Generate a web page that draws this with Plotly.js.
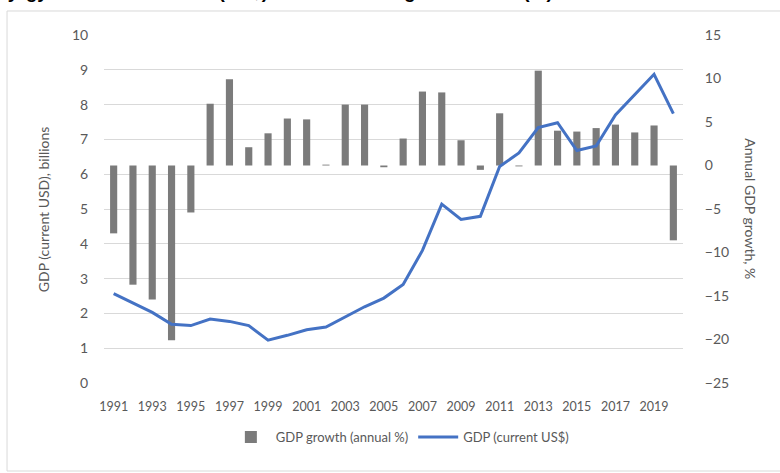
<!DOCTYPE html>
<html>
<head>
<meta charset="utf-8">
<script src="https://cdn.plot.ly/plotly-3.0.1.min.js"></script>
<style>
  html, body { margin: 0; padding: 0; background: #ffffff; }
  #chart { width: 780px; height: 473px; }
</style>
</head>
<body>
<div id="chart"></div>
<script>
// ---- Data ----
var years = ["1991","1992","1993","1994","1995","1996","1997","1998","1999","2000",
             "2001","2002","2003","2004","2005","2006","2007","2008","2009","2010",
             "2011","2012","2013","2014","2015","2016","2017","2018","2019","2020"];

// Annual GDP growth, % (right axis)
var gdpGrowth = [-7.8, -13.7, -15.4, -20.1, -5.4, 7.1, 9.9, 2.1, 3.7, 5.4,
                 5.3, 0.1, 7.0, 7.0, -0.2, 3.1, 8.5, 8.4, 2.9, -0.5,
                 6.0, -0.1, 10.9, 4.0, 3.9, 4.3, 4.7, 3.8, 4.6, -8.6];

// GDP (current USD), billions (left axis)
var gdpBillions = [2.57, 2.29, 2.03, 1.69, 1.65, 1.84, 1.77, 1.65, 1.23, 1.37,
                   1.53, 1.61, 1.91, 2.19, 2.44, 2.83, 3.81, 5.14, 4.70, 4.79,
                   6.22, 6.61, 7.34, 7.48, 6.68, 6.81, 7.70, 8.28, 8.87, 7.74];

var xTickLabels = ["1991","1993","1995","1997","1999","2001","2003","2005",
                   "2007","2009","2011","2013","2015","2017","2019"];

var leftTicks = [0,1,2,3,4,5,6,7,8,9,10];
var rightTicks = [-25,-20,-15,-10,-5,0,5,10,15];

var chartTitle = "Kyrgyzstan GDP current (US$) and total GDP growth rates (%)";
var leftTitle = "GDP (current USD), billions";
var rightTitle = "Annual GDP growth, %";
var barName = "GDP growth (annual %)";
var lineName = "GDP (current US$)";

// ---- Styles ----
var txtColor = "#595959";
var fontFam = "Lato, 'Open Sans', 'Liberation Sans', sans-serif";
var clear = "rgba(0,0,0,0)";

var traces = [
  {
    type: "bar",
    name: barName,
    x: years,
    y: gdpGrowth,
    yaxis: "y",
    width: 0.37,
    marker: { color: "#7b7b7b" },
    hoverinfo: "x+y"
  },
  {
    type: "scatter",
    mode: "lines",
    name: lineName,
    x: years,
    y: gdpBillions,
    yaxis: "y2",
    line: { color: "#4472c4", width: 3 },
    hoverinfo: "x+y"
  }
];

var layout = {
  width: 780,
  height: 473,
  margin: { l: 104, r: 97, t: 35, b: 90, pad: 0 },
  paper_bgcolor: "#ffffff",
  plot_bgcolor: "#ffffff",
  font: { family: fontFam, color: txtColor, size: 13 },
  showlegend: true,
  xaxis: {
    type: "category",
    tickmode: "array",
    tickvals: xTickLabels,
    ticktext: xTickLabels,
    showgrid: false,
    showline: false,
    zeroline: false,
    ticks: "outside",
    ticklen: 12,
    tickcolor: clear,
    tickfont: { family: fontFam, size: 12.5, color: txtColor },
    fixedrange: true
  },
  yaxis: {
    side: "right",
    range: [-25, 15],
    tickmode: "array",
    tickvals: rightTicks,
    showgrid: false,
    zeroline: false,
    showline: false,
    ticks: "outside",
    ticklen: 18,
    tickcolor: clear,
    tickfont: { family: fontFam, size: 14, color: txtColor },
    fixedrange: true
  },
  yaxis2: {
    overlaying: "y",
    side: "left",
    range: [0, 10],
    tickmode: "array",
    tickvals: leftTicks,
    showgrid: true,
    gridcolor: "#d9d9d9",
    gridwidth: 1,
    zeroline: false,
    showline: false,
    ticks: "outside",
    ticklen: 12,
    tickcolor: clear,
    tickfont: { family: fontFam, size: 14, color: txtColor },
    fixedrange: true
  },
  legend: {
    orientation: "h",
    x: 0.511,
    xanchor: "center",
    y: -0.155,
    yanchor: "middle",
    font: { family: fontFam, size: 13, color: txtColor },
    itemwidth: 40,
    bgcolor: clear
  },
  annotations: [
    {
      text: chartTitle,
      xref: "paper", yref: "paper",
      x: -0.193, y: 1.0885,
      xanchor: "left", yanchor: "bottom",
      showarrow: false,
      font: { family: "'Liberation Sans', Arial, sans-serif", size: 19, color: "#000000", weight: "bold" }
    },
    {
      text: leftTitle,
      xref: "paper", yref: "paper",
      x: -0.105, y: 0.5,
      xanchor: "center", yanchor: "middle",
      textangle: -90,
      showarrow: false,
      font: { family: fontFam, size: 14, color: txtColor }
    },
    {
      text: rightTitle,
      xref: "paper", yref: "paper",
      x: 1.117, y: 0.5,
      xanchor: "center", yanchor: "middle",
      textangle: 90,
      showarrow: false,
      font: { family: fontFam, size: 14, color: txtColor }
    }
  ],
  shapes: [
    {
      type: "rect",
      xref: "paper", yref: "paper",
      x0: -0.1675, x1: 1.171, y0: -0.2529, y1: 1.069,
      line: { color: "#d9d9d9", width: 1 },
      fillcolor: clear,
      layer: "below"
    }
  ]
};

Plotly.newPlot("chart", traces, layout, { displayModeBar: false, staticPlot: true });
</script>
</body>
</html>
